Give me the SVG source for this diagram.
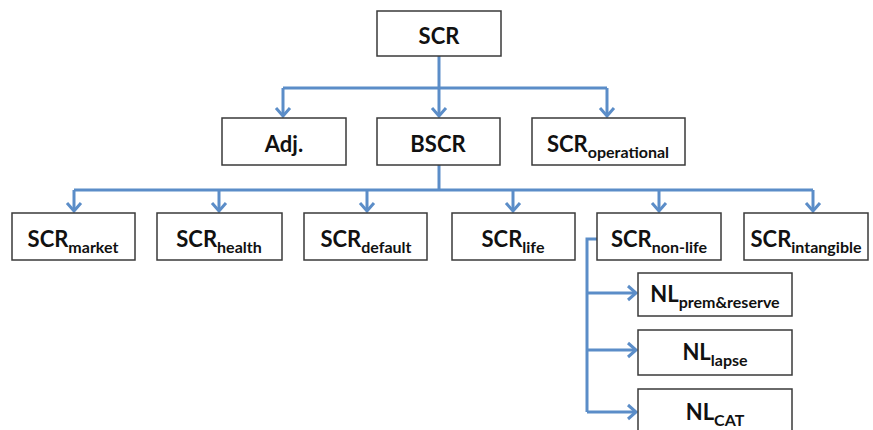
<svg xmlns="http://www.w3.org/2000/svg" width="873" height="430" viewBox="0 0 873 430">
<style>
.box{fill:#fff;stroke:#3a3a3a;stroke-width:1.5}
.t{font-family:Lato,"Open Sans","Liberation Sans",sans-serif;font-weight:bold;font-size:22px;fill:#111;text-anchor:middle}
.s{font-size:16px}
.c{fill:none;stroke:#5B8DC8;stroke-width:3}
</style>
<defs>
<marker id="ah" markerUnits="userSpaceOnUse" markerWidth="20" markerHeight="20" refX="0" refY="0" viewBox="-10 -10 20 20" orient="auto" overflow="visible">
<path d="M-8,-7 L0,0 L-8,7" fill="none" stroke="#5B8DC8" stroke-width="3"/>
</marker>
</defs>
<rect width="873" height="430" fill="#fff"/>
<g id="connectors" class="c">
<path d="M439,56 V88"/>
<path d="M283,88 H607"/>
<path d="M283,88 V116" marker-end="url(#ah)"/>
<path d="M439,88 V116" marker-end="url(#ah)"/>
<path d="M607,88 V116" marker-end="url(#ah)"/>
<path d="M439,165 V190"/>
<path d="M74,190 H813"/>
<path d="M74,190 V211" marker-end="url(#ah)"/>
<path d="M219,190 V211" marker-end="url(#ah)"/>
<path d="M367,190 V211" marker-end="url(#ah)"/>
<path d="M513,190 V211" marker-end="url(#ah)"/>
<path d="M659,190 V211" marker-end="url(#ah)"/>
<path d="M813,190 V211" marker-end="url(#ah)"/>
<path d="M597,239 H587 V412"/>
<path d="M587,293 H636" marker-end="url(#ah)"/>
<path d="M587,350 H636" marker-end="url(#ah)"/>
<path d="M587,412 H636" marker-end="url(#ah)"/>
</g>
<g id="scr"><rect class="box" x="377" y="11" width="124" height="45"/><text class="t" x="439" y="44">SCR</text></g>
<g id="adj"><rect class="box" x="222" y="118" width="124" height="47"/><text class="t" x="284" y="152">Adj.</text></g>
<g id="bscr"><rect class="box" x="377" y="118" width="123" height="47"/><text class="t" x="438" y="152">BSCR</text></g>
<g id="scr-operational"><rect class="box" x="532" y="118" width="153" height="47"/><text class="t" x="608" y="152">SCR<tspan class="s" dy="6">operational</tspan></text></g>
<g id="scr-market"><rect class="box" x="12" y="213" width="123" height="47"/><text class="t" x="73" y="247">SCR<tspan class="s" dy="6">market</tspan></text></g>
<g id="scr-health"><rect class="box" x="157" y="213" width="125" height="47"/><text class="t" x="219" y="247">SCR<tspan class="s" dy="6">health</tspan></text></g>
<g id="scr-default"><rect class="box" x="304" y="213" width="123" height="47"/><text class="t" x="366" y="247">SCR<tspan class="s" dy="6">default</tspan></text></g>
<g id="scr-life"><rect class="box" x="452" y="213" width="123" height="47"/><text class="t" x="513" y="247">SCR<tspan class="s" dy="6">life</tspan></text></g>
<g id="scr-non-life"><rect class="box" x="597" y="213" width="124" height="47"/><text class="t" x="659" y="247">SCR<tspan class="s" dy="6">non-life</tspan></text></g>
<g id="scr-intangible"><rect class="box" x="744" y="213" width="124" height="47"/><text class="t" x="806" y="247">SCR<tspan class="s" dy="6">intangible</tspan></text></g>
<g id="nl-prem-reserve"><rect class="box" x="638" y="273" width="154" height="43"/><text class="t" x="715" y="302">NL<tspan class="s" dy="6">prem&amp;reserve</tspan></text></g>
<g id="nl-lapse"><rect class="box" x="638" y="330" width="154" height="45"/><text class="t" x="715" y="360">NL<tspan class="s" dy="6">lapse</tspan></text></g>
<g id="nl-cat"><rect class="box" x="638" y="389" width="154" height="50"/><text class="t" x="715" y="420">NL<tspan class="s" dy="6">CAT</tspan></text></g>
</svg>
